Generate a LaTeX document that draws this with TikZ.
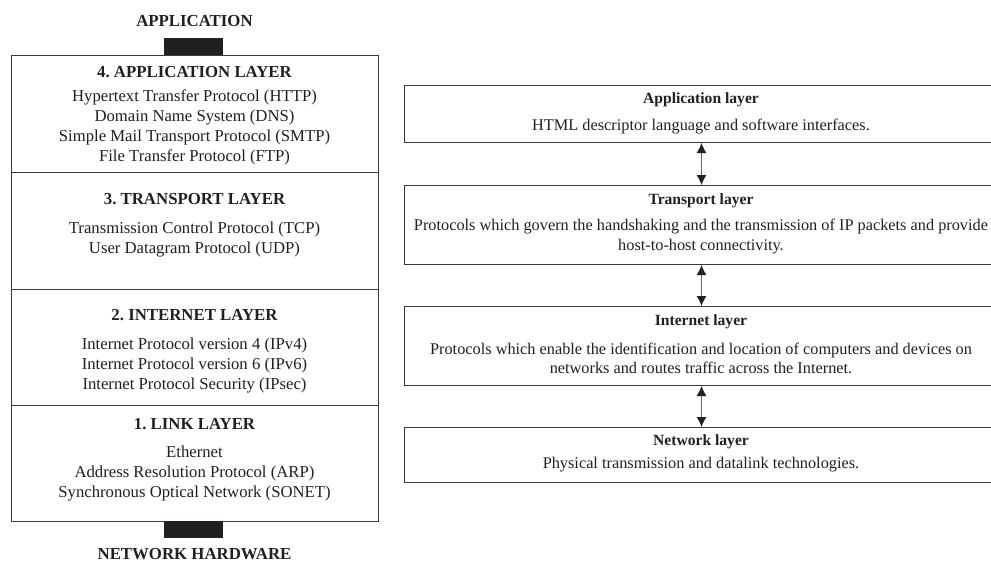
\documentclass[tikz,border=0pt]{standalone}
\usepackage{fontspec}
\setmainfont{Liberation Serif}
\usetikzlibrary{arrows.meta}
\definecolor{ink}{HTML}{231F20}
\definecolor{boxgray}{HTML}{3A3A3A}
\definecolor{arrgray}{HTML}{666666}
\begin{document}
\frenchspacing
\begin{tikzpicture}[x=1pt,y=-1pt,
  lbox/.style={draw=boxgray, line width=1.4pt, minimum width=367pt, anchor=north west, inner sep=0pt},
  rbox/.style={draw=boxgray, line width=1pt, minimum width=594pt, anchor=north west, inner sep=0pt},
  blk/.style={fill=ink, minimum width=59pt, minimum height=17pt, inner sep=0pt},
  lhead/.style={font=\fontsize{16.8}{19}\selectfont\bfseries, text=ink, inner sep=0pt},
  ltext/.style={font=\fontsize{16.7}{20}\selectfont, text=ink, align=center, inner sep=0pt},
  rhead/.style={font=\fontsize{15.6}{19}\selectfont\bfseries, text=ink, inner sep=0pt},
  rtext/.style={font=\fontsize{16.3}{19.5}\selectfont, text=ink, align=center, inner sep=0pt},
  biarrow/.style={draw=arrgray, line width=1pt, {Latex[length=10pt,width=10pt,color=ink]}-{Latex[length=10pt,width=10pt,color=ink]}}
]
\useasboundingbox (0,0) rectangle (991,563);
\fill[white] (0,0) rectangle (991,563);

% Left stack
\node[lhead] (apptitle) at (194.5,21) {APPLICATION};
\node[blk] (topblk) at (193.5,46.5) {};
\node[lbox, minimum height=117pt] (L4) at (11,55) {};
\node[lbox, minimum height=117pt] (L3) at (11,172) {};
\node[lbox, minimum height=116pt] (L2) at (11,289) {};
\node[lbox, minimum height=116pt] (L1) at (11,405) {};
\node[blk] (botblk) at (193.5,529.5) {};
\node[lhead] (hwtitle) at (194.5,554.5) {NETWORK HARDWARE};

\node[lhead] (L4h) at (194.5,72) {4. APPLICATION LAYER};
\node[ltext] (L4t) at (194.5,127) {Hypertext Transfer Protocol (HTTP)\\Domain Name System (DNS)\\Simple Mail Transport Protocol (SMTP)\\File Transfer Protocol (FTP)};
\node[lhead] (L3h) at (194.5,199) {3. TRANSPORT LAYER};
\node[ltext] (L3t) at (194.5,239.5) {Transmission Control Protocol (TCP)\\User Datagram Protocol (UDP)};
\node[lhead] (L2h) at (194.5,315) {2. INTERNET LAYER};
\node[ltext] (L2t) at (194.5,366) {Internet Protocol version 4 (IPv4)\\Internet Protocol version 6 (IPv6)\\Internet Protocol Security (IPsec)};
\node[lhead] (L1h) at (194.5,424) {1. LINK LAYER};
\node[ltext] (L1t) at (194.5,474) {Ethernet\\Address Resolution Protocol (ARP)\\Synchronous Optical Network (SONET)};

% Right stack
\node[rbox, minimum height=57pt] (R1) at (404,85) {};
\node[rbox, minimum height=79pt] (R2) at (404,185) {};
\node[rbox, minimum height=79pt] (R3) at (404,306) {};
\node[rbox, minimum height=55pt] (R4) at (404,427) {};

\node[rhead] (R1h) at (701,100) {Application layer};
\node[rtext] (R1t) at (701,127) {HTML descriptor language and software interfaces.};
\node[rhead] (R2h) at (701,201) {Transport layer};
\node[rtext] (R2t) at (701,236.5) {Protocols which govern the handshaking and the transmission of IP packets and provide\\host-to-host connectivity.};
\node[rhead] (R3h) at (701,322) {Internet layer};
\node[rtext] (R3t) at (701,358.5) {Protocols which enable the identification and location of computers and devices on\\networks and routes traffic across the Internet.};
\node[rhead] (R4h) at (701,442) {Network layer};
\node[rtext] (R4t) at (701,465) {Physical transmission and datalink technologies.};

\draw[biarrow] (R1.south) -- (R2.north);
\draw[biarrow] (R2.south) -- (R3.north);
\draw[biarrow] (R3.south) -- (R4.north);
\end{tikzpicture}
\end{document}
